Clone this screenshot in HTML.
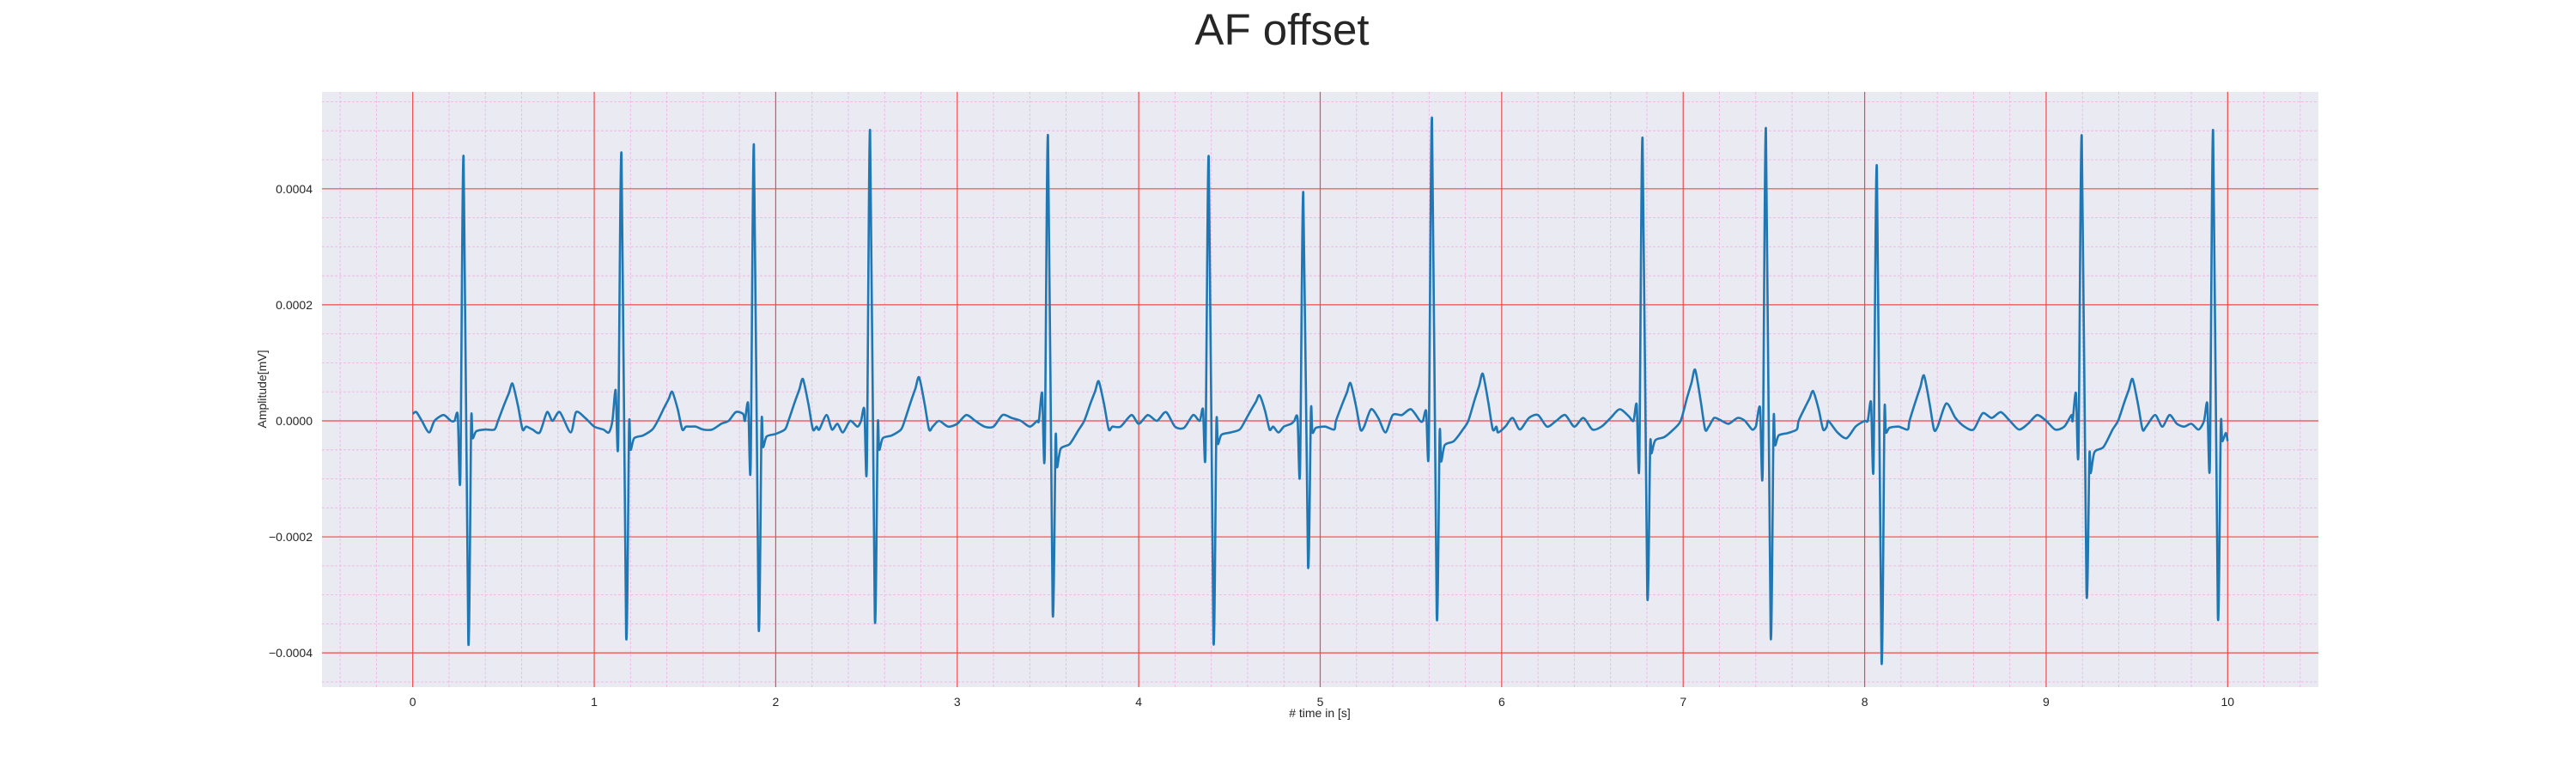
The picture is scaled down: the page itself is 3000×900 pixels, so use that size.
<!DOCTYPE html>
<html><head><meta charset="utf-8"><style>
html,body{margin:0;padding:0;background:#fff;}
svg{display:block;font-family:"Liberation Sans",sans-serif;}
</style></head><body>
<svg id="chart" width="3000" height="900" viewBox="0 0 3000 900">
<text x="1493" y="52" font-size="51" text-anchor="middle" fill="#262626">AF offset</text>
<rect x="375" y="107" width="2325" height="693" fill="#eaeaf2"/>
<g id="grid"></g>
<g id="ticks"></g>
<path id="trace" fill="none" stroke="#1f77b4" stroke-width="2.6" stroke-linejoin="round"/>
<text x="1537" y="835" font-size="14" text-anchor="middle" fill="#262626"># time in [s]</text>
<text transform="translate(310,453) rotate(-90)" font-size="14" text-anchor="middle" fill="#262626">Amplitude[mV]</text>
</svg>
<script>
// beat data (amplitudes in 1e-3 mV units)
const rTimes = [0.28,1.15,1.88,2.52,3.50,4.386,4.907,5.616,6.776,7.456,8.067,9.196,9.92];
const rAmps  = [0.455,0.46,0.475,0.50,0.491,0.454,0.394,0.521,0.487,0.503,0.438,0.491,0.50];
const qAmps  = [-0.097,-0.04,-0.08,-0.08,-0.06,-0.056,-0.088,-0.05,-0.076,-0.088,-0.08,-0.053,-0.075];
const preAmps= [0.01,0.053,0.03,0.02,0.048,0.02,0.005,0.017,0.028,0.022,0.032,0.048,0.03];
const sAmps  = [-0.38,-0.37,-0.355,-0.34,-0.328,-0.379,-0.248,-0.334,-0.298,-0.369,-0.414,-0.293,-0.335];
const postAmps=[-0.003,-0.01,-0.005,-0.01,-0.03,-0.008,0.017,-0.023,-0.043,-0.001,0.01,-0.06,-0.01];
const dipAmps= [-0.03,-0.05,-0.045,-0.05,-0.08,-0.04,-0.02,-0.07,-0.056,-0.042,-0.02,-0.09,-0.035];
const tDelays= [0.27,0.28,0.27,0.27,0.28,0.28,0.26,0.28,0.29,0.26,0.26,0.28,0];
const tAmps  = [0.064,0.05,0.072,0.075,0.068,0.044,0.065,0.081,0.088,0.051,0.078,0.072,0];
const wigT = [0,0.02,0.05,0.09,0.12,0.17,0.21,0.62,0.66,0.70,0.74,0.77,0.81,0.87,0.90,0.95,1.0,1.05,1.08,
 1.50,1.53,1.56,1.60,1.65,1.70,1.74,1.78,1.82,2.24,2.28,2.31,2.34,2.37,2.41,2.45,
 2.86,2.90,2.95,3.0,3.05,3.10,3.15,3.20,3.25,3.30,3.35,3.40,3.44,
 3.86,3.90,3.96,4.0,4.05,4.10,4.15,4.20,4.25,4.30,4.34,4.74,4.77,4.80,4.84,
 5.24,5.28,5.32,5.36,5.40,5.45,5.50,5.55,
 5.98,6.02,6.06,6.10,6.15,6.20,6.25,6.30,6.35,6.40,6.45,6.50,6.55,6.60,6.65,6.70,
 7.13,7.17,7.20,7.25,7.30,7.34,7.38,7.40,7.80,7.85,7.90,7.95,8.0,
 8.40,8.45,8.50,8.55,8.60,8.65,8.70,8.75,8.80,8.85,8.90,8.95,9.0,9.05,9.10,9.14,
 9.55,9.60,9.64,9.68,9.72,9.76,9.80,9.84,9.87];
const wigV = [0.012,0.015,0.0,-0.02,0.0,0.01,0.0,-0.02,-0.015,-0.02,0.015,0.0,0.015,-0.02,0.015,0.005,-0.01,-0.015,-0.02,
 0.02,-0.01,-0.01,-0.015,-0.015,-0.005,0.0,0.015,0.012,-0.015,0.01,-0.015,-0.005,-0.02,-0.0,-0.01,
 -0.01,0.0,-0.01,-0.005,0.01,0.0,-0.01,-0.01,0.01,0.005,0.0,-0.01,0.0,
 -0.02,-0.01,0.01,-0.005,0.01,0.0,0.015,-0.01,-0.012,0.01,0.005,0.02,-0.02,-0.01,-0.005,
 -0.02,0.02,0.005,-0.02,0.01,0.01,0.02,0.0,
 -0.02,-0.01,0.005,-0.015,0.005,0.01,-0.01,0.0,0.01,-0.01,0.005,-0.015,-0.01,0.005,0.02,0.008,
 0.0,0.005,0.002,-0.005,0.005,0.0,-0.015,-0.01,0.0,-0.02,-0.03,-0.01,0.0,
 -0.02,0.03,0.005,-0.01,-0.015,0.013,0.005,0.015,0.0,-0.015,-0.005,0.01,0.0,-0.015,-0.01,0.01,
 -0.01,0.01,-0.01,0.01,-0.005,-0.01,-0.005,-0.015,0.0];
const xTicks = ['0','1','2','3','4','5','6','7','8','9','10'];
const yTicks = [0.0004,0.0002,0,-0.0002,-0.0004];
const yTickLabels = ['0.0004','0.0002','0.0000','\u22120.0002','\u22120.0004'];

const X0=375,X1=2700,Y0=107,Y1=800;
const xMin=-0.5,xMax=10.5,yMin=-0.000459,yMax=0.000567;
const sx=t=>X0+(t-xMin)/(xMax-xMin)*(X1-X0);
const sy=v=>Y1-(v-yMin)/(yMax-yMin)*(Y1-Y0);
const NS='http://www.w3.org/2000/svg';
const grid=document.getElementById('grid'), ticks=document.getElementById('ticks');
function line(g,x1,y1,x2,y2,stroke,w,dash){const l=document.createElementNS(NS,'line');
 l.setAttribute('x1',x1);l.setAttribute('y1',y1);l.setAttribute('x2',x2);l.setAttribute('y2',y2);
 l.setAttribute('stroke',stroke);l.setAttribute('stroke-width',w);if(dash)l.setAttribute('stroke-dasharray',dash);
 g.appendChild(l);return l;}
for(let i=-2;i<=52;i++){const t=i*0.2;if(t<xMin||t>xMax||i%5===0)continue;
 const l=line(grid,sx(t),Y0,sx(t),Y1,'#f0b6e4',0.9,'3,2');
 
 }
for(let i=-10;i<=12;i++){const v=i*0.00005;if(v<yMin||v>yMax||i%4===0)continue;
 const l=line(grid,X0,sy(v),X1,sy(v),'#f0b6e4',0.9,'3,2');
 
 }
xTicks.forEach(s=>{const t=+s;const l=line(grid,sx(t),Y0,sx(t),Y1,'#f04848',1.2);
 
 
 const tx=document.createElementNS(NS,'text');tx.setAttribute('x',sx(t));tx.setAttribute('y',822);
 tx.setAttribute('font-size','14');tx.setAttribute('text-anchor','middle');tx.setAttribute('fill','#262626');tx.textContent=s;
 
 
 ticks.appendChild(tx);});
yTicks.forEach((v,i)=>{const l=line(grid,X0,sy(v),X1,sy(v),'#f04848',1.2);
 
 
 const tx=document.createElementNS(NS,'text');tx.setAttribute('x',364);tx.setAttribute('y',sy(v)+5);
 tx.setAttribute('font-size','14');tx.setAttribute('text-anchor','end');tx.setAttribute('fill','#262626');tx.textContent=yTickLabels[i];
 
 
 ticks.appendChild(tx);});

// build trace points
let pts=[];const windows=[];
rTimes.forEach((tr,i)=>{
 const seg=[[-0.05,0.0],[-0.032,preAmps[i]],[-0.018,qAmps[i]],[0,rAmps[i]],[0.026,sAmps[i]],[0.042,postAmps[i]],[0.05,dipAmps[i]],
  [0.07,dipAmps[i]*0.6],[0.12,dipAmps[i]*0.5],[0.17,-0.015]];
 seg.forEach(([dt,v])=>{if(tr+dt<=10)pts.push([tr+dt,v]);});
 windows.push([tr-0.056,tr+0.19]);
 if(tAmps[i]){const tt=tr+tDelays[i];
  [[-0.08,0.0],[-0.045,tAmps[i]*0.45],[-0.02,tAmps[i]*0.75],[0,tAmps[i]],[0.03,tAmps[i]*0.4],[0.055,-0.015],[0.075,-0.01]].forEach(([dt,v])=>pts.push([tt+dt,v]));
  windows.push([tt-0.085,tt+0.08]);}
});
pts.push([10.0,-0.035]);
wigT.forEach((t,i)=>{if(!windows.some(w=>t>w[0]&&t<w[1])&&t<=9.87)pts.push([t,wigV[i]]);});
pts.sort((a,b)=>a[0]-b[0]);
// smooth path (Catmull-Rom -> cubic Bezier)
const P=pts.map(p=>[sx(p[0]),sy(p[1]/1000)]);
let d='M'+P[0][0].toFixed(1)+','+P[0][1].toFixed(1);
for(let i=0;i<P.length-1;i++){
 const p0=P[Math.max(0,i-1)],p1=P[i],p2=P[i+1],p3=P[Math.min(P.length-1,i+2)];
 const k=1/6*0.8;
 const c1=[p1[0]+(p2[0]-p0[0])*k,p1[1]+(p2[1]-p0[1])*k];
 const c2=[p2[0]-(p3[0]-p1[0])*k,p2[1]-(p3[1]-p1[1])*k];
 d+='C'+c1[0].toFixed(1)+','+c1[1].toFixed(1)+' '+c2[0].toFixed(1)+','+c2[1].toFixed(1)+' '+p2[0].toFixed(1)+','+p2[1].toFixed(1);
}
document.getElementById('trace').setAttribute('d',d);
</script>
</body></html>
